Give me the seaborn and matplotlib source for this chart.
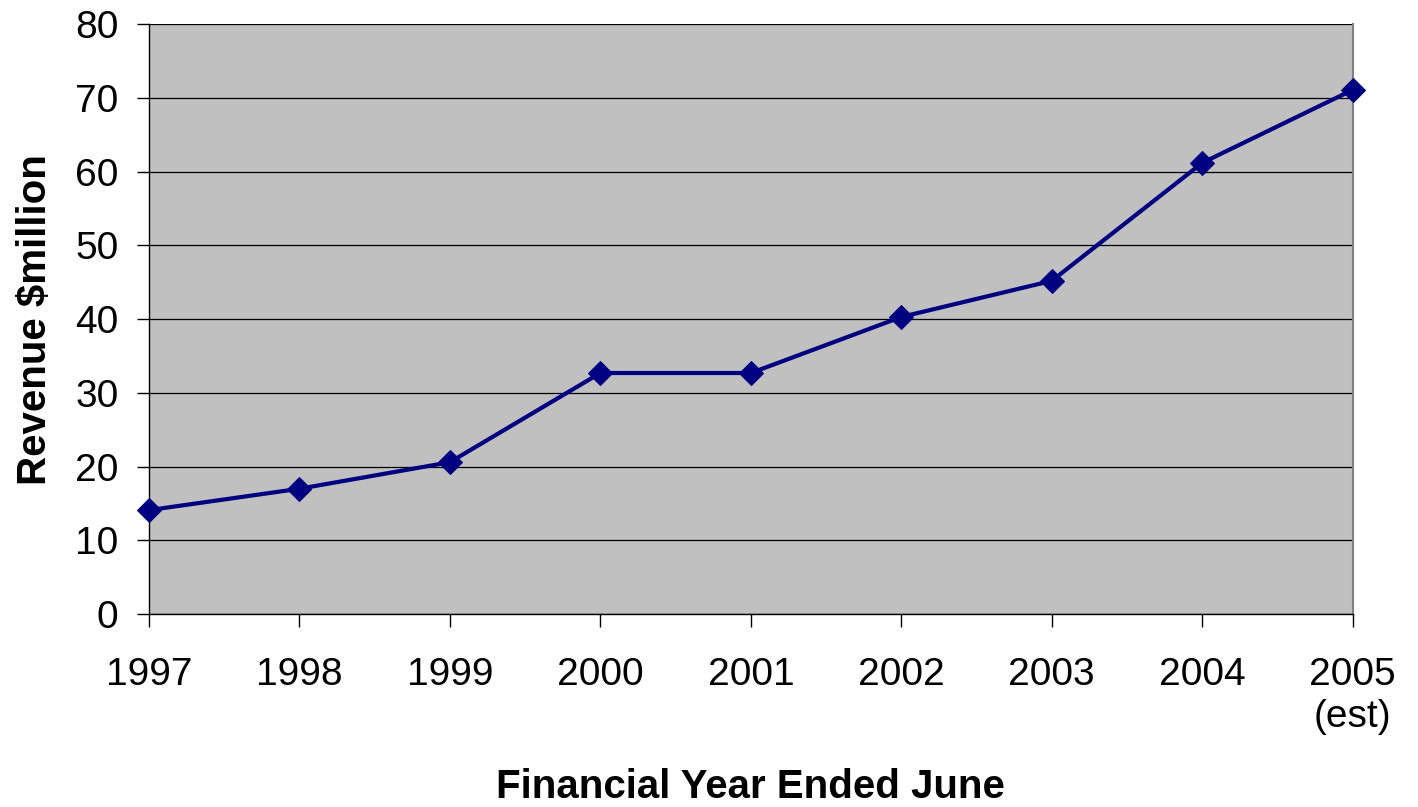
import matplotlib
matplotlib.use("Agg")
import matplotlib.pyplot as plt
import seaborn as sns
import pandas as pd

# Annual revenue by financial year (June year end)
years = ["1997", "1998", "1999", "2000", "2001", "2002", "2003", "2004", "2005\n(est)"]
revenue = [14.1, 17.0, 20.6, 32.7, 32.7, 40.3, 45.2, 61.2, 71.1]
y_ticks = [0, 10, 20, 30, 40, 50, 60, 70, 80]

sns.set_theme(style="white")
plt.rcParams["font.family"] = ["Liberation Sans", "DejaVu Sans"]

df = pd.DataFrame({"pos": range(len(years)), "revenue": revenue})

fig = plt.figure(figsize=(14.18, 8.07), dpi=100)
ax = fig.add_axes([0.105, 0.239, 0.849, 0.731])
ax.set_facecolor("#C0C0C0")

sns.lineplot(data=df, x="pos", y="revenue", ax=ax, color="#000080",
             linewidth=3.0, marker="D", markersize=12,
             markeredgecolor="#000080", markerfacecolor="#000080",
             clip_on=False, zorder=5)

ax.set_xlim(0, len(years) - 1)
ax.set_ylim(0, 80)
ax.set_yticks(y_ticks)
ax.set_xticks(range(len(years)))
ax.set_xticklabels(years)

ax.yaxis.grid(True, color="#000000", linewidth=0.9)
ax.xaxis.grid(False)
ax.set_axisbelow(True)

for side in ("left", "bottom"):
    ax.spines[side].set_color("#000000")
    ax.spines[side].set_linewidth(1.0)
ax.spines["right"].set_color("#808080")
ax.spines["right"].set_linewidth(1.5)
ax.spines["top"].set_visible(False)

ax.tick_params(axis="both", which="major", direction="out", length=9,
               width=1.0, color="#000000", labelsize=28, labelcolor="#000000",
               bottom=True, left=True)
ax.tick_params(axis="x", pad=22)
ax.tick_params(axis="y", pad=13)

ax.set_xlabel("Financial Year Ended June", fontsize=29, fontweight="bold",
              color="#000000", labelpad=24)
ax.set_ylabel("Revenue $million", fontsize=29, fontweight="bold",
              color="#000000", labelpad=15)

fig.savefig("out.png", dpi=100, facecolor="white")
